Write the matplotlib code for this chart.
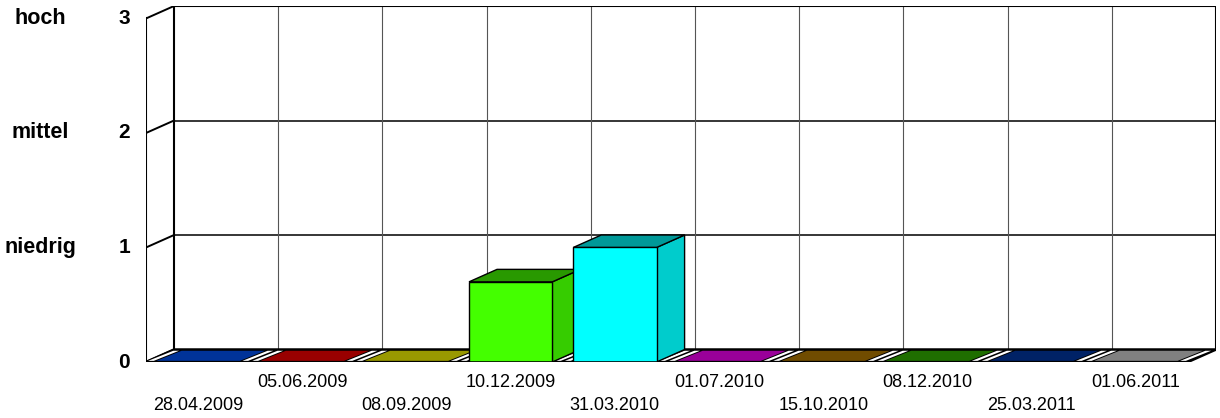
import matplotlib
matplotlib.use("Agg")
import matplotlib.pyplot as plt
from matplotlib.patches import Polygon
from matplotlib.colors import to_rgb

plt.rcParams['font.family'] = ['Liberation Sans', 'DejaVu Sans']

dates = ['28.04.2009', '05.06.2009', '08.09.2009', '10.12.2009', '31.03.2010',
         '01.07.2010', '15.10.2010', '08.12.2010', '25.03.2011', '01.06.2011']
values = [0, 0, 0, 0.7, 1.0, 0, 0, 0, 0, 0]
base_colors = ['#0055FF', '#FF0000', '#FFFF00', '#44FF00', '#00FFFF',
               '#FF00FF', '#BB7F00', '#34B800', '#0038AA', '#D5D5D5']
level_ticks = [0, 1, 2, 3]
level_names = ['niedrig', 'mittel', 'hoch']

# depth offset of the 3d box, in data units
dx = 0.269
dy = 0.109
n = len(dates)
ymax = 3
bw = 0.8


def shade(c, f):
    r, g, b = to_rgb(c)
    return (r * f, g * f, b * f)


fig = plt.figure(figsize=(12.2, 4.18), dpi=100)
ax = fig.add_axes([146 / 1220, 56 / 418, 1070 / 1220, 356 / 418])
ax.set_xlim(0, n + dx)
ax.set_ylim(0, ymax + dy)
ax.axis('off')

# back wall grid
for j in level_ticks[1:-1]:
    ax.plot([dx, n + dx], [j + dy, j + dy], color='black', lw=1.1, zorder=1)
for i in range(1, n):
    ax.plot([i + dx, i + dx], [dy, ymax + dy], color='#555555', lw=0.8, zorder=1)
ax.plot([dx, n + dx, n + dx, dx, dx], [dy, dy, ymax + dy, ymax + dy, dy],
        color='black', lw=1.5, zorder=1)

# left wall
for j in level_ticks:
    ax.plot([0, dx], [j, j + dy], color='black', lw=1.4, zorder=1)
ax.plot([0, 0], [0, ymax], color='black', lw=1.5, zorder=1)

# floor
ax.add_patch(Polygon([(0, 0), (n, 0), (n + dx, dy), (dx, dy)], closed=True,
                     facecolor='black', edgecolor='black', lw=1.8, zorder=2))

for i, (v, c) in enumerate(zip(values, base_colors)):
    x0 = i + (1 - bw) / 2
    x1 = x0 + bw
    # white stripes in the floor gaps
    for a, b in [(x0 - 0.08, x0 - 0.025), (x1 + 0.025, x1 + 0.08)]:
        ax.add_patch(Polygon([(a, 0.01), (b, 0.01), (b + dx * 0.9, dy * 0.9), (a + dx * 0.9, dy * 0.9)],
                             closed=True, facecolor='white', edgecolor='none', zorder=3))
    if v == 0:
        ax.add_patch(Polygon([(x0, 0.01), (x1, 0.01), (x1 + dx * 0.9, dy * 0.9), (x0 + dx * 0.9, dy * 0.9)],
                             closed=True, facecolor=shade(c, 0.6), edgecolor='none', zorder=4))
    else:
        z = 5 + i
        ax.add_patch(Polygon([(x1, 0), (x1 + dx, dy), (x1 + dx, v + dy), (x1, v)], closed=True,
                             facecolor=shade(c, 0.8), edgecolor='black', lw=1.0, zorder=z))
        ax.add_patch(Polygon([(x0, v), (x1, v), (x1 + dx, v + dy), (x0 + dx, v + dy)], closed=True,
                             facecolor=shade(c, 0.6), edgecolor='black', lw=1.0, zorder=z))
        ax.add_patch(Polygon([(x0, 0), (x1, 0), (x1, v), (x0, v)], closed=True,
                             facecolor=c, edgecolor='black', lw=1.0, zorder=z))

ax.plot([0, n], [0, 0], color='black', lw=1.8, zorder=20)

# value axis labels
for j in level_ticks:
    ax.text(-0.211, j, str(j), ha='center', va='center', fontsize=15,
            fontweight='bold', clip_on=False)
for j, name in zip(level_ticks[1:], level_names):
    ax.text(-1.017, j, name, ha='center', va='center', fontsize=15.5,
            fontweight='bold', clip_on=False)

# category labels, staggered
for i, d in enumerate(dates):
    yy = -0.376 if i % 2 == 0 else -0.175
    ax.text(i + 0.5, yy, d, ha='center', va='center', fontsize=13, clip_on=False)

fig.savefig('out.png', dpi=100)
